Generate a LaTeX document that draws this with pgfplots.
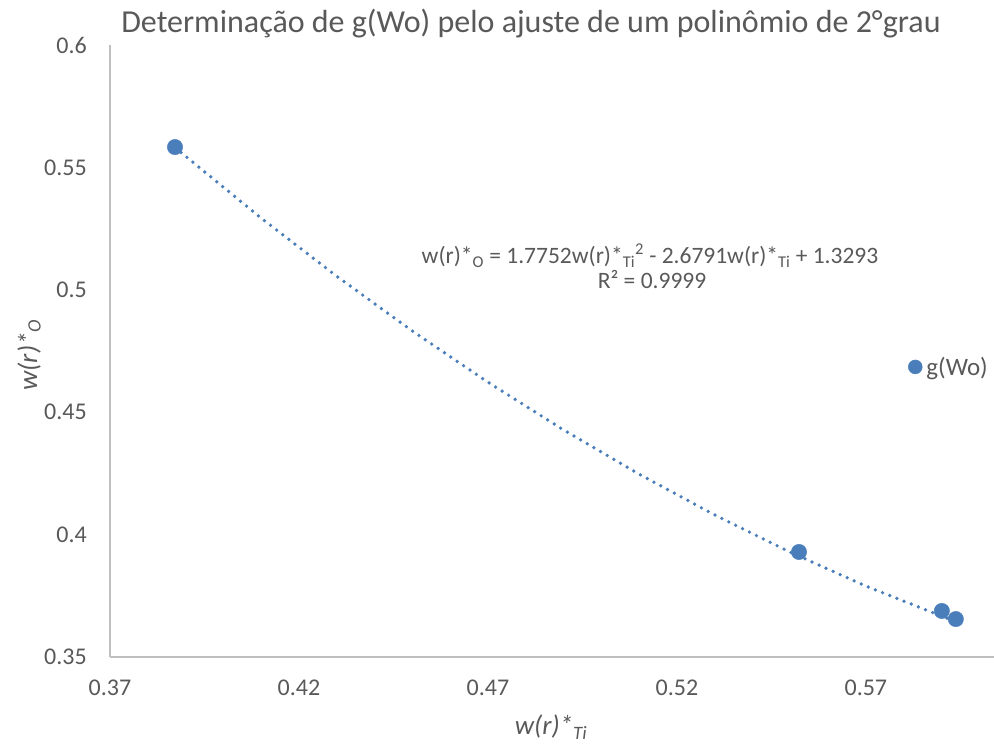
\documentclass[border=0pt]{standalone}
\usepackage{fontspec}
\setmainfont{Carlito}
\usepackage{pgfplots}
\pgfplotsset{compat=1.18}
\definecolor{ptblue}{HTML}{4A7EBB}
\definecolor{txtgray}{HTML}{595959}
\definecolor{axgray}{HTML}{BFBFBF}

\begin{document}
\begin{tikzpicture}
\useasboundingbox (0,0) rectangle (994pt,744pt);
\begin{axis}[
  at={(110pt,87pt)}, anchor=south west,
  scale only axis, width=884pt, height=612pt,
  xmin=0.37, xmax=0.6039, ymin=0.35, ymax=0.6,
  axis x line=bottom, axis y line=left,
  axis line style={axgray, line width=2pt, -},
  xtick={0.37,0.42,0.47,0.52,0.57},
  ytick={0.35,0.4,0.45,0.5,0.55,0.6},
  major tick length=0pt,
  ticklabel style={font=\fontsize{24}{24}\selectfont, text=txtgray, inner sep=0pt},
  xticklabel style={anchor=north},
  yticklabel style={anchor=east},
  xticklabel shift=23pt, yticklabel shift=23pt,
  /pgf/number format/fixed,
  /pgf/number format/precision=2,
  /pgf/number format/assume math mode=true,
  legend style={at={(axis cs:0.58111,0.4685)}, anchor=west, draw=none, fill=none,
    inner sep=0pt, font=\fontsize{25}{25}\selectfont, text=txtgray,
    nodes={inner sep=0pt}, /tikz/every even column/.append style={column sep=5pt}},
  legend image code/.code={\fill[ptblue] (7pt,0pt) circle (7pt);},
]
% quadratic trendline y = 1.7752x^2 - 2.6791x + 1.3293, tabulated
\addplot[ptblue, line width=3.7pt, line cap=round, dash pattern=on 0pt off 7.7pt, forget plot]
  coordinates {
  (0.3872,0.5581) (0.41,0.52928) (0.43,0.50552) (0.45,0.48318)
  (0.47,0.46226) (0.49,0.44277) (0.51,0.42469) (0.53,0.40803)
  (0.55,0.39279) (0.57,0.37897) (0.5938,0.36439)};
\addplot[only marks, mark=*, mark size=7.7pt, color=ptblue, mark options={fill=ptblue, draw=ptblue}]
  coordinates {(0.3872,0.5583) (0.5523,0.3929) (0.5901,0.3688) (0.5938,0.3655)};
\addlegendentry{\hspace{4pt}g(Wo)}
\end{axis}
\node[anchor=base, font=\fontsize{32}{32}\selectfont, text=txtgray] at (531pt,711pt)
  {Determinação de g(Wo) pelo ajuste de um polinômio de 2°grau};
\node[anchor=base, font=\fontsize{23.5}{23.5}\selectfont, text=txtgray, inner sep=0pt] at (650pt,480pt)
  {w(r)*\textsubscript{O} = 1.7752w(r)*\textsubscript{Ti}\textsuperscript{2} - 2.6791w(r)*\textsubscript{Ti} + 1.3293};
\node[anchor=base, font=\fontsize{23.5}{23.5}\selectfont, text=txtgray, inner sep=0pt] at (652pt,455pt)
  {R² = 0.9999};
\node[anchor=base, font=\fontsize{27}{27}\itshape, text=txtgray] at (551pt,9pt)
  {w(r)*\textsubscript{Ti}};
\node[anchor=base, rotate=90, font=\fontsize{27}{27}\itshape, text=txtgray] at (37pt,389pt)
  {w(r)*\textsubscript{O}};
\end{tikzpicture}
\end{document}
